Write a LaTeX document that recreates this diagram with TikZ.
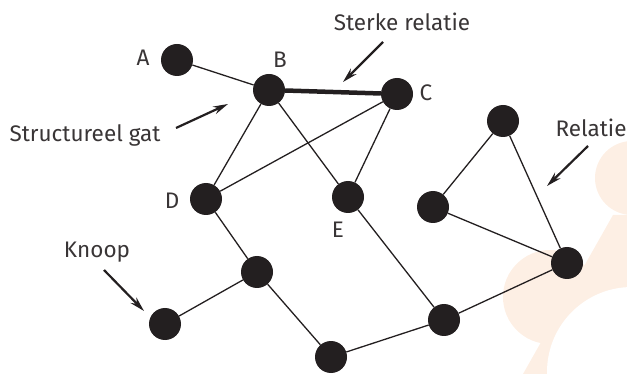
\documentclass[tikz,border=0pt]{standalone}
\usepackage{fontspec}
\setmainfont{Fira Sans}
\usetikzlibrary{arrows.meta}
\definecolor{inkt}{RGB}{35,31,32}
\definecolor{perzik}{RGB}{253,239,228}

\begin{document}
\begin{tikzpicture}[x=1pt,y=-1pt,
    knoop/.style={circle,fill=inkt,minimum size=32pt,inner sep=0pt},
    lijn/.style={draw=inkt,line width=1.3pt},
    sterk/.style={draw=inkt,line width=4.5pt},
    pijl/.style={draw=inkt,line width=2.2pt,-{Stealth[length=15pt,width=8pt]}},
    tekst/.style={text=inkt!90,anchor=base,font=\fontsize{22.5}{26}\selectfont}]
    \useasboundingbox (0,0) rectangle (627,374);

    % achtergrond
    \begin{scope}
      \clip (0,0) rectangle (627,374);
      \fill[perzik] (632,178) circle (37);
      \fill[perzik] (550,297) circle (47);
      \fill[perzik] (613,215) -- (523,374) -- (627,374) -- (627,215) -- cycle;
      \fill[white] (632,372) circle (85);
    \end{scope}

    % knopen
    \node[knoop] (a) at (177,60) {};
    \node[knoop] (b) at (269,90) {};
    \node[knoop] (c) at (397,94) {};
    \node[knoop] (d) at (206,199) {};
    \node[knoop] (e) at (348,197) {};
    \node[knoop] (f) at (257,272) {};
    \node[knoop] (k) at (165,324) {};
    \node[knoop] (h) at (331,357) {};
    \node[knoop] (m) at (444,320) {};
    \node[knoop] (t) at (503,121) {};
    \node[knoop] (l) at (433,207) {};
    \node[knoop] (r) at (567,263) {};

    % relaties
    \draw[sterk] (b) -- (c);
    \draw[lijn] (a) -- (b);
    \draw[lijn] (b) -- (d);
    \draw[lijn] (b) -- (e);
    \draw[lijn] (c) -- (d);
    \draw[lijn] (c) -- (e);
    \draw[lijn] (d) -- (f);
    \draw[lijn] (f) -- (k);
    \draw[lijn] (f) -- (h);
    \draw[lijn] (h) -- (m);
    \draw[lijn] (e) -- (m);
    \draw[lijn] (m) -- (r);
    \draw[lijn] (t) -- (r);
    \draw[lijn] (l) -- (r);
    \draw[lijn] (l) -- (t);

    % letters
    \node[tekst] (la) at (143,66) {A};
    \node[tekst] (lb) at (280,68) {B};
    \node[tekst] (lc) at (426,101) {C};
    \node[tekst] (ld) at (172,209) {D};
    \node[tekst] (le) at (338,238) {E};

    % pijlen en uitleg
    \node[tekst] (sterkrel) at (402,31) {Sterke relatie};
    \node[tekst] (gat) at (85,142) {Structureel gat};
    \node[tekst] (rel) at (591,137) {Relatie};
    \node[tekst] (kn) at (97,258) {Knoop};
    \coordinate (s1) at (383,42);
    \coordinate (s2) at (343,82);
    \coordinate (g1) at (176,128);
    \coordinate (g2) at (228,104);
    \coordinate (r1) at (588,146);
    \coordinate (r2) at (547,186);
    \coordinate (k1) at (104,270);
    \coordinate (k2) at (144,311);
    \draw[pijl] (s1) -- (s2);
    \draw[pijl] (g1) -- (g2);
    \draw[pijl] (r1) -- (r2);
    \draw[pijl] (k1) -- (k2);
\end{tikzpicture}
\end{document}
